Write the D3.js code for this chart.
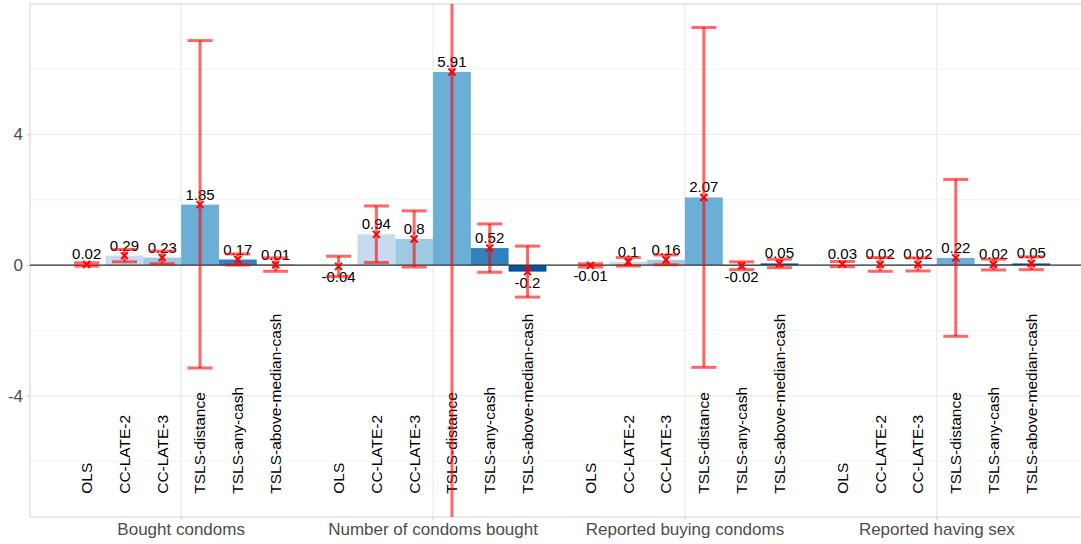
<!DOCTYPE html>
<html>
<head>
<meta charset="utf-8">
<script src="https://cdn.jsdelivr.net/npm/d3@7"></script>
<style>
  body { margin: 0; background: #fff; }
  svg { display: block; font-family: "Liberation Sans", Arial, sans-serif; }
</style>
</head>
<body>
<div id="chart"></div>
<script>
// outcome groups along the x axis
var groups = ["Bought condoms", "Number of condoms bought", "Reported buying condoms", "Reported having sex"];
// estimators inside each group
var methods = ["OLS", "CC-LATE-2", "CC-LATE-3", "TSLS-distance", "TSLS-any-cash", "TSLS-above-median-cash"];
var colors = ["#eff3ff", "#c6dbef", "#9ecae1", "#6baed6", "#3182bd", "#08519c"];

// point estimates, one row per group, one value per method
var estimates = [
  [0.02, 0.29, 0.23, 1.85, 0.17, 0.01],
  [-0.04, 0.94, 0.8, 5.91, 0.52, -0.2],
  [-0.01, 0.1, 0.16, 2.07, -0.02, 0.05],
  [0.03, 0.02, 0.02, 0.22, 0.02, 0.05]
];
// confidence interval bounds
var lower = [
  [-0.03, 0.10, 0.04, -3.15, 0.00, -0.19],
  [-0.35, 0.08, -0.06, -14.09, -0.22, -0.98],
  [-0.06, -0.03, 0.01, -3.13, -0.14, -0.08],
  [-0.05, -0.19, -0.18, -2.18, -0.15, -0.14]
];
var upper = [
  [0.07, 0.48, 0.43, 6.87, 0.34, 0.22],
  [0.27, 1.81, 1.66, 25.91, 1.26, 0.58],
  [0.04, 0.23, 0.31, 7.27, 0.10, 0.18],
  [0.11, 0.23, 0.22, 2.62, 0.18, 0.25]
];
var yTicks = [-4, 0, 4];
var yMinor = [-6, -2, 2, 6];

var W = 1081, H = 544;
var panel = { left: 30, right: 1088, top: 4, bottom: 517 };

var rows = [];
groups.forEach(function(g, gi) {
  methods.forEach(function(m, mi) {
    rows.push({ group: g, method: m, mi: mi, value: estimates[gi][mi], lo: lower[gi][mi], hi: upper[gi][mi] });
  });
});

var svg = d3.select("#chart").append("svg")
    .attr("width", W)
    .attr("height", H);

// ggplot style discrete expansion: 0.6 of a step on each side
var step = (panel.right - panel.left) / (groups.length - 1 + 1.2);
var x = d3.scaleBand()
    .domain(groups)
    .range([panel.left + 0.1 * step, panel.right - 0.1 * step]);
var xInner = d3.scaleBand()
    .domain(methods)
    .range([0.05 * x.bandwidth(), 0.95 * x.bandwidth()]);
var y = d3.scaleLinear()
    .domain([-7.71, 7.99])
    .range([panel.bottom, panel.top]);

var cx = function(d) { return x(d.group) + xInner(d.method) + xInner.bandwidth() / 2; };

svg.append("clipPath").attr("id", "clip")
  .append("rect")
    .attr("x", panel.left).attr("y", panel.top)
    .attr("width", panel.right - panel.left).attr("height", panel.bottom - panel.top);

// grid
var grid = svg.append("g");
grid.selectAll(".minor").data(yMinor).enter().append("line")
    .attr("x1", panel.left).attr("x2", panel.right)
    .attr("y1", function(d) { return y(d); }).attr("y2", function(d) { return y(d); })
    .attr("stroke", "#f0f0f0").attr("stroke-width", 0.8);
grid.selectAll(".major").data(yTicks).enter().append("line")
    .attr("x1", panel.left).attr("x2", panel.right)
    .attr("y1", function(d) { return y(d); }).attr("y2", function(d) { return y(d); })
    .attr("stroke", "#e6e6e6").attr("stroke-width", 1);
grid.selectAll(".vmajor").data(groups).enter().append("line")
    .attr("y1", panel.top).attr("y2", panel.bottom)
    .attr("x1", function(d) { return x(d) + x.bandwidth() / 2; })
    .attr("x2", function(d) { return x(d) + x.bandwidth() / 2; })
    .attr("stroke", "#e6e6e6").attr("stroke-width", 1);

// panel border
svg.append("rect")
    .attr("x", panel.left).attr("y", panel.top)
    .attr("width", panel.right - panel.left).attr("height", panel.bottom - panel.top)
    .attr("fill", "none").attr("stroke", "#d4d4d4").attr("stroke-width", 1);

// y axis, plain hyphen for negatives
var yAxis = d3.axisLeft(y).tickValues(yTicks).tickSize(3).tickPadding(4)
    .tickFormat(function(d) { return String(d); });
var gy = svg.append("g")
    .attr("transform", "translate(" + panel.left + ",0)")
    .call(yAxis);
gy.select(".domain").remove();
gy.selectAll("line").attr("stroke", "#c8c8c8");
gy.selectAll("text").attr("fill", "#4d4d4d").style("font-size", "17px")
    .style("font-family", "'Liberation Sans', Arial, sans-serif");

// x axis (group names)
var xAxis = d3.axisBottom(x).tickSize(3).tickPadding(3);
var gx = svg.append("g")
    .attr("transform", "translate(0," + panel.bottom + ")")
    .call(xAxis);
gx.select(".domain").remove();
gx.selectAll("line").attr("stroke", "#c8c8c8");
gx.selectAll("text").attr("fill", "#4d4d4d").style("font-size", "17px")
    .style("font-family", "'Liberation Sans', Arial, sans-serif");

var plot = svg.append("g").attr("clip-path", "url(#clip)");

// bars
plot.selectAll(".bar").data(rows).enter().append("rect")
    .attr("class", "bar")
    .attr("x", function(d) { return x(d.group) + xInner(d.method); })
    .attr("width", xInner.bandwidth())
    .attr("y", function(d) { return y(Math.max(0, d.value)); })
    .attr("height", function(d) { return Math.abs(y(d.value) - y(0)); })
    .attr("fill", function(d) { return colors[d.mi]; });

// zero line
plot.append("line")
    .attr("x1", panel.left).attr("x2", panel.right)
    .attr("y1", y(0)).attr("y2", y(0))
    .attr("stroke", "#333").attr("stroke-width", 1.3);

// value labels
plot.selectAll(".val").data(rows).enter().append("text")
    .attr("class", "val")
    .attr("x", cx)
    .attr("y", function(d) { return d.value > 0 ? y(d.value) - 5 : y(d.value) + 16; })
    .attr("text-anchor", "middle")
    .style("font-size", "15px")
    .attr("fill", "#000")
    .text(function(d) { return d.value; });

// method labels written upwards from y = -7
plot.selectAll(".cat").data(rows).enter().append("text")
    .attr("class", "cat")
    .attr("transform", function(d) { return "translate(" + cx(d) + "," + y(-7) + ") rotate(-90)"; })
    .attr("dy", "0.35em")
    .attr("text-anchor", "start")
    .style("font-size", "15.5px")
    .attr("fill", "#000")
    .text(function(d) { return d.method; });

// error bars
var capW = 25;
var eb = plot.selectAll(".eb").data(rows).enter().append("g")
    .attr("stroke", "#ff0000").attr("stroke-opacity", 0.6).attr("stroke-width", 3).attr("fill", "none");
eb.append("line")
    .attr("x1", cx).attr("x2", cx)
    .attr("y1", function(d) { return y(d.lo); }).attr("y2", function(d) { return y(d.hi); });
eb.append("line")
    .attr("x1", function(d) { return cx(d) - capW / 2; }).attr("x2", function(d) { return cx(d) + capW / 2; })
    .attr("y1", function(d) { return y(d.lo); }).attr("y2", function(d) { return y(d.lo); });
eb.append("line")
    .attr("x1", function(d) { return cx(d) - capW / 2; }).attr("x2", function(d) { return cx(d) + capW / 2; })
    .attr("y1", function(d) { return y(d.hi); }).attr("y2", function(d) { return y(d.hi); });

// point markers (x shape)
var s = 3.5;
plot.selectAll(".pt").data(rows).enter().append("path")
    .attr("d", function(d) {
      var px = cx(d), py = y(d.value);
      return "M" + (px - s) + "," + (py - s) + "L" + (px + s) + "," + (py + s) +
             "M" + (px - s) + "," + (py + s) + "L" + (px + s) + "," + (py - s);
    })
    .attr("stroke", "#ff0000").attr("stroke-width", 2).attr("fill", "none");
</script>
</body>
</html>
